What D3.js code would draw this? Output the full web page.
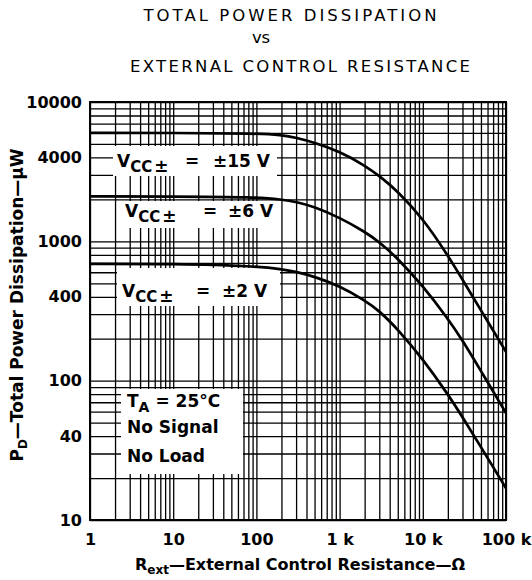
<!DOCTYPE html>
<html><head><meta charset="utf-8">
<script src="https://cdn.jsdelivr.net/npm/d3@7"></script>
<style>body{margin:0;background:#fff}</style>
</head><body><svg id="c" width="532" height="580"></svg>
<script>
// ---- data ----
const resistance = [1, 10, 100, 200, 300, 500, 1000, 2000, 3000, 5000, 10000, 20000, 30000, 50000, 100000];
const vcc15 = [6000, 6000, 5960, 5790, 5560, 5105, 4415, 3510, 2950, 2290, 1460, 794, 531, 320, 161];
const vcc6  = [2100, 2100, 2080, 1995, 1920, 1770, 1480, 1175, 990, 755, 479, 279, 195, 117.5, 58.5];
const vcc2  = [690, 690, 664, 631, 605, 558, 479, 378, 317, 234, 143, 80, 54.8, 33.4, 16.9];
const xTickValues = [1, 10, 100, 1000, 10000, 100000];
const xTickLabels = ["1", "10", "100", "1 k", "10 k", "100 k"];
const yTickValues = [10, 40, 100, 400, 1000, 4000, 10000];
const yTickLabels = ["10", "40", "100", "400", "1000", "4000", "10000"];

const svg = d3.select("#c");
const L = 90, R = 506, T = 102, B = 520;
const x = d3.scaleLog().domain([1, 100000]).range([L, R]);
const y = d3.scaleLog().domain([10, 10000]).range([B, T]);

// grid values 1..9 per decade
const xGrid = [], yGrid = [];
for (let d = 1; d < 100000; d *= 10) for (let m = 1; m <= 9; m++) xGrid.push(d * m);
xGrid.push(100000);
for (let d = 10; d < 10000; d *= 10) for (let m = 1; m <= 9; m++) yGrid.push(d * m);
yGrid.push(10000);

const gx = svg.append("g").attr("transform", `translate(0,${B})`)
  .call(d3.axisBottom(x).tickValues(xGrid).tickSize(-(B - T)).tickFormat(""));
const gy = svg.append("g").attr("transform", `translate(${L},0)`)
  .call(d3.axisLeft(y).tickValues(yGrid).tickSize(-(R - L)).tickFormat(""));
[gx, gy].forEach(g => {
  g.select(".domain").remove();
  g.selectAll(".tick line").attr("stroke", "#000").attr("stroke-width", 1.3);
});

// white label boxes
const boxes = [[113, 146, 164, 30], [118, 201, 159, 27], [117, 268, 163, 38], [121, 389, 122, 85]];
svg.selectAll("rect.box").data(boxes).join("rect").attr("class", "box")
  .attr("x", d => d[0]).attr("y", d => d[1]).attr("width", d => d[2]).attr("height", d => d[3])
  .attr("fill", "#fff");

// curves
const line = d3.line().x(d => x(d[0])).y(d => y(d[1])).curve(d3.curveBasis);
[vcc15, vcc6, vcc2].forEach(s => {
  svg.append("path").datum(resistance.map((r, i) => [r, s[i]]))
    .attr("d", line).attr("fill", "none").attr("stroke", "#000").attr("stroke-width", 2.7);
});

// frame
svg.append("rect").attr("x", L).attr("y", T).attr("width", R - L).attr("height", B - T)
  .attr("fill", "none").attr("stroke", "#000").attr("stroke-width", 2);

// tick labels
const ax = svg.append("g").attr("transform", `translate(0,${B})`)
  .call(d3.axisBottom(x).tickValues(xTickValues).tickSize(0).tickPadding(14)
    .tickFormat((d, i) => xTickLabels[i]));
const ay = svg.append("g").attr("transform", `translate(${L},0)`)
  .call(d3.axisLeft(y).tickValues(yTickValues).tickSize(0).tickPadding(8)
    .tickFormat((d, i) => yTickLabels[i]));
[ax, ay].forEach(g => {
  g.select(".domain").remove();
  g.selectAll("text").attr("font-family", "DejaVu Sans").attr("font-weight", "bold")
    .attr("font-size", 16).attr("fill", "#000");
});

// titles
const title = [["TOTAL POWER DISSIPATION", 290, 21, 293], ["vs", 261, 43, 18], ["EXTERNAL CONTROL RESISTANCE", 300, 72, 340]];
title.forEach(t => {
  svg.append("text").attr("x", t[1]).attr("y", t[2]).attr("text-anchor", "middle")
    .attr("font-family", "DejaVu Sans").attr("font-size", 16.5).attr("fill", "#000")
    .attr("textLength", t[3]).attr("lengthAdjust", "spacing").text(t[0]);
});

const bold = sel => sel.attr("font-family", "DejaVu Sans").attr("font-weight", "bold").attr("fill", "#000");

// y-axis title
const yt = svg.append("text").attr("transform", "translate(23,305) rotate(-90)")
  .attr("text-anchor", "middle").attr("font-size", 17).call(bold);
yt.append("tspan").text("P");
yt.append("tspan").attr("font-size", 12).attr("dy", 4).text("D");
yt.append("tspan").attr("dy", -4).text("—Total Power Dissipation—μW");

// x-axis title
const xt = svg.append("text").attr("x", 300).attr("y", 570)
  .attr("text-anchor", "middle").attr("font-size", 16).call(bold);
xt.append("tspan").text("R");
xt.append("tspan").attr("font-size", 12).attr("dy", 4).text("ext");
xt.append("tspan").attr("dy", -4).text("—External Control Resistance—Ω");

// Vcc labels
const vlabels = [[117, 167, "±15 V", 185, 213], [125, 217, "±6 V", 203, 228], [122, 297, "±2 V", 196, 222]];
vlabels.forEach(v => {
  const t = svg.append("text").attr("x", v[0]).attr("y", v[1]).attr("font-size", 17).call(bold);
  t.append("tspan").text("V");
  t.append("tspan").attr("font-size", 15).attr("dy", 5).text("CC");
  t.append("tspan").attr("dx", 2).text("±");
  svg.append("text").attr("x", v[3]).attr("y", v[1]).attr("font-size", 17).call(bold).text("=");
  svg.append("text").attr("x", v[4]).attr("y", v[1]).attr("font-size", 17).call(bold).text(v[2]);
});

// conditions box text
const ta = svg.append("text").attr("x", 127).attr("y", 407).attr("font-size", 17).call(bold);
ta.append("tspan").text("T");
ta.append("tspan").attr("font-size", 14).attr("dy", 5).text("A");
ta.append("tspan").attr("dy", -5).attr("dx", 6).text("=  25°C");
svg.append("text").attr("x", 127).attr("y", 433).attr("font-size", 17).call(bold).text("No Signal");
svg.append("text").attr("x", 127).attr("y", 462).attr("font-size", 17).call(bold).text("No Load");
</script></body></html>
